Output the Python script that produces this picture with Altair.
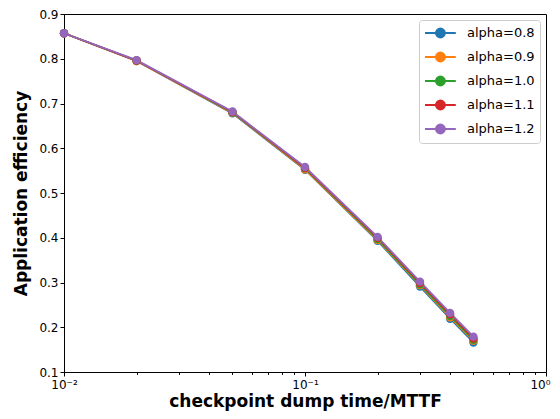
import altair as alt
import pandas as pd

x_vals = [0.01, 0.02, 0.05, 0.1, 0.2, 0.3, 0.4, 0.5]
alphas = ["alpha=0.8", "alpha=0.9", "alpha=1.0", "alpha=1.1", "alpha=1.2"]
eff_08 = [0.857, 0.795, 0.678, 0.552, 0.393, 0.291, 0.219, 0.166]
eff_09 = [0.857, 0.795, 0.679, 0.553, 0.395, 0.294, 0.222, 0.170]
eff_10 = [0.857, 0.796, 0.680, 0.555, 0.397, 0.296, 0.225, 0.172]
eff_11 = [0.857, 0.796, 0.681, 0.556, 0.400, 0.299, 0.229, 0.175]
eff_12 = [0.857, 0.797, 0.682, 0.558, 0.402, 0.302, 0.232, 0.179]
colors = ["#1f77b4", "#ff7f0e", "#2ca02c", "#d62728", "#9467bd"]
major_ticks = [0.01, 0.1, 1]
minor_ticks = [0.02, 0.03, 0.04, 0.05, 0.06, 0.07, 0.08, 0.09,
               0.2, 0.3, 0.4, 0.5, 0.6, 0.7, 0.8, 0.9]
y_ticks = [0.1, 0.2, 0.3, 0.4, 0.5, 0.6, 0.7, 0.8, 0.9]

series = [eff_08, eff_09, eff_10, eff_11, eff_12]
rows = []
for i, (name, vals) in enumerate(zip(alphas, series)):
    for x, y in zip(x_vals, vals):
        rows.append({"x": x, "y": y, "series": name, "order": i})
df = pd.DataFrame(rows)

FONT = "DejaVu Sans"

xscale = alt.Scale(type="log", domain=[0.01, 1], nice=False)
yscale = alt.Scale(domain=[0.1, 0.9], nice=False, zero=False)

# line with a marker in the middle; drawn in a [-1,1] box and extended right
legend_path = ("M-1,0L3.4,0M0.55,0A0.65,0.65,0,1,0,1.85,0"
               "A0.65,0.65,0,1,0,0.55,0Z")

main = alt.Chart(df).mark_line(
    strokeWidth=1.8,
    point=alt.OverlayMarkDef(filled=True, size=70, opacity=1),
).encode(
    x=alt.X("x:Q", scale=xscale,
            axis=alt.Axis(values=major_ticks, orient="bottom",
                          title="checkpoint dump time/MTTF",
                          labelExpr="datum.value < 0.05 ? '10⁻²' : (datum.value < 0.5 ? '10⁻¹' : '10⁰')",
                          labelFlush=False,
                          labelOffset={"condition": {"test": "datum.value >= 1", "value": -6},
                                       "value": 0},
                          tickSize=4, labelPadding=3, titlePadding=3)),
    y=alt.Y("y:Q", scale=yscale,
            axis=alt.Axis(values=y_ticks, format=".1f",
                          title="Application efficiency", tickSize=4,
                          titlePadding=8)),
    color=alt.Color("series:N",
                    scale=alt.Scale(domain=alphas, range=colors),
                    legend=alt.Legend(title=None, orient="top-right", offset=6,
                                      symbolType=legend_path, symbolSize=196,
                                      symbolStrokeWidth=1.8,
                                      labelOffset=27,
                                      labelFontSize=13, labelFont=FONT,
                                      labelColor="black",
                                      rowPadding=6, padding=5,
                                      fillColor="white", strokeColor="#cccccc",
                                      cornerRadius=3)),
    order=alt.Order("order:Q"),
)

minor = alt.Chart(df).mark_point(opacity=0).encode(
    x=alt.X("x:Q", scale=xscale,
            axis=alt.Axis(values=minor_ticks, orient="bottom", labels=False,
                          title=None, tickSize=2.4, domain=False)),
    y=alt.Y("y:Q", scale=yscale),
)

chart = alt.layer(main, minor).resolve_axis(x="independent").properties(
    width=482, height=358,
    autosize=alt.AutoSizeParams(type="none"),
    padding={"left": 56, "top": 6, "right": 6, "bottom": 39},
).configure_view(stroke="black", strokeWidth=1).configure_axis(
    grid=False, domainColor="black", tickColor="black",
    labelColor="black", labelFont=FONT, labelFontSize=12,
    titleFont=FONT, titleFontSize=17, titleFontWeight="bold",
    titleColor="black", domainWidth=1, tickWidth=1,
)

chart.save("out.html", embed_options={"renderer": "svg", "actions": False})
